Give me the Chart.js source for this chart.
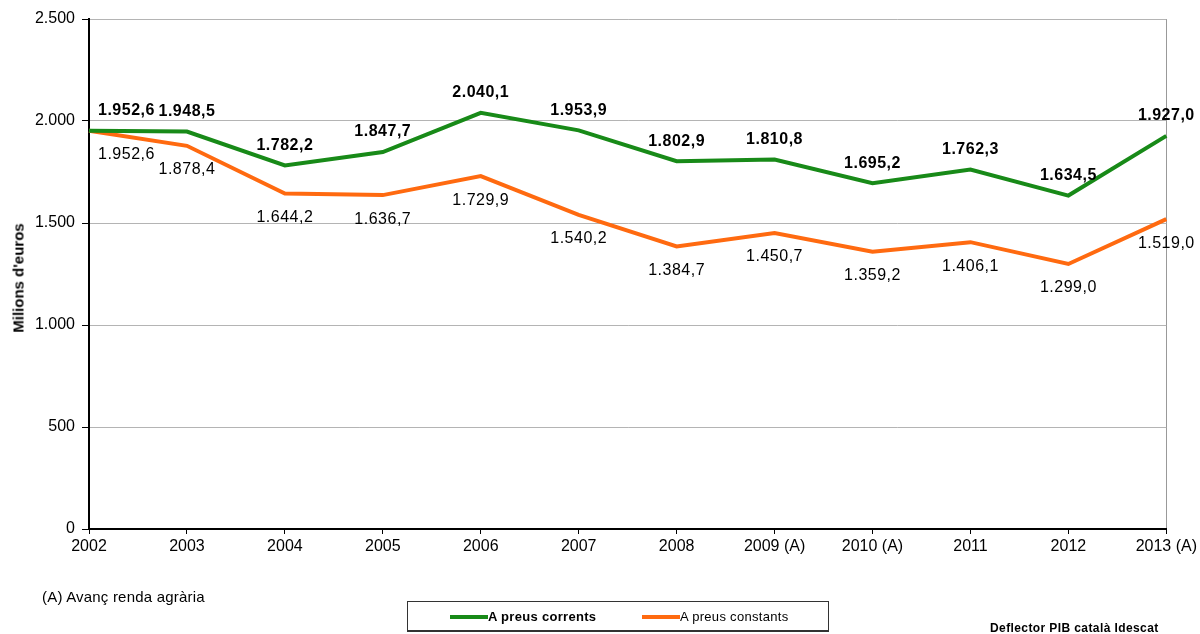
<!DOCTYPE html>
<html lang="ca">
<head>
    <meta charset="UTF-8"/>
    <title>Renda agrària</title>
    <style>
        html, body {
            margin: 0;
            padding: 0;
            width: 1200px;
            height: 634px;
            background: #fff;
            overflow: hidden;
            font-family: 'Liberation Sans', Arial, sans-serif;
        }

        #wrap {
            position: relative;
            width: 1200px;
            height: 634px;
        }

        canvas {
            position: absolute;
            top: 0;
            left: 0;
        }

        #ylabel {
            position: absolute;
            left: 18px;
            top: 278px;
            transform: translate(-50%, -50%) rotate(-90deg);
            font-size: 15px;
            font-weight: bold;
            white-space: nowrap;
            color: #000;
        }

        #note {
            position: absolute;
            left: 42px;
            top: 588px;
            font-size: 15px;
            letter-spacing: 0.2px;
            color: #000;
        }

        #legend {
            position: absolute;
            left: 407px;
            top: 601px;
            width: 422px;
            height: 31px;
            border: 1px solid #333;
            border-bottom-width: 2px;
            box-sizing: border-box;
            font-size: 13px;
            color: #000;
        }

        .item {
            position: absolute;
            top: 7px;
            white-space: nowrap;
            letter-spacing: 0.3px;
        }

        .swatch {
            display: inline-block;
            width: 38px;
            height: 4px;
            vertical-align: middle;
            margin-top: -2px;
        }

        #source {
            position: absolute;
            left: 990px;
            top: 621px;
            font-size: 12px;
            font-weight: bold;
            letter-spacing: 0.4px;
            color: #000;
            white-space: nowrap;
        }
    </style>
    <script src="https://cdn.jsdelivr.net/npm/chart.js@4/dist/chart.umd.min.js"></script>
</head>
<body>
<div id="wrap">
    <canvas id="chart" width="1200" height="634"></canvas>
    <div id="ylabel">Milions d'euros</div>
    <div id="note">(A) Avanç renda agrària</div>
    <div id="legend">
        <span class="item" style="left:42px;font-weight:bold;"><span class="swatch" style="background:#188a18;"></span>A preus corrents</span>
        <span class="item" style="left:234px;"><span class="swatch" style="background:#ff6a10;"></span>A preus constants</span>
    </div>
    <div id="source">Deflector PIB català Idescat</div>
</div>

<script>
    // Data
    const years = ['2002', '2003', '2004', '2005', '2006', '2007', '2008',
        '2009 (A)', '2010 (A)', '2011', '2012', '2013 (A)'];
    const corrents = [1952.6, 1948.5, 1782.2, 1847.7, 2040.1, 1953.9, 1802.9,
        1810.8, 1695.2, 1762.3, 1634.5, 1927.0];
    const constants = [1952.6, 1878.4, 1644.2, 1636.7, 1729.9, 1540.2, 1384.7,
        1450.7, 1359.2, 1406.1, 1299.0, 1519.0];
    const yTicks = [0, 500, 1000, 1500, 2000, 2500];

    const GREEN = '#188a18';
    const ORANGE = '#ff6a10';
    const FONT = "'Liberation Sans', Arial, sans-serif";

    // 1234.5 -> "1.234,5"
    function fmt(v, dec) {
        const s = v.toFixed(dec);
        const parts = s.split('.');
        const int = parts[0].replace(/\B(?=(\d{3})+(?!\d))/g, '.');
        return parts[1] ? int + ',' + parts[1] : int;
    }

    // Value labels: bold above the green line, plain below the orange one
    const valueLabels = {
        id: 'valueLabels',
        afterDatasetsDraw(chart) {
            const c = chart.ctx;
            c.save();
            c.fillStyle = '#000';
            c.textBaseline = 'middle';
            c.letterSpacing = '0.5px';
            chart.data.datasets.forEach((ds, i) => {
                const meta = chart.getDatasetMeta(i);
                const above = i === 0;
                c.font = (above ? 'bold ' : '') + '16px ' + FONT;
                meta.data.forEach((pt, j) => {
                    const first = j === 0;
                    c.textAlign = first ? 'left' : 'center';
                    const x = first ? pt.x + 9 : pt.x;
                    const y = above ? pt.y - 20 : pt.y + 24;
                    c.fillText(fmt(ds.data[j], 1), x, y);
                });
            });
            c.restore();
        }
    };

    const ctx = document.getElementById('chart').getContext('2d');
    new Chart(ctx, {
        type: 'line',
        data: {
            labels: years,
            datasets: [{
                label: 'A preus corrents',
                data: corrents,
                borderColor: GREEN,
                borderWidth: 4,
                pointRadius: 0,
                tension: 0
            }, {
                label: 'A preus constants',
                data: constants,
                borderColor: ORANGE,
                borderWidth: 4,
                pointRadius: 0,
                tension: 0
            }]
        },
        options: {
            responsive: false,
            animation: false,
            layout: {padding: {top: 19, right: 33, left: 0, bottom: 0}},
            plugins: {
                legend: {display: false},
                tooltip: {enabled: false}
            },
            scales: {
                x: {
                    offset: false,
                    afterFit: s => { s.height = 105; },
                    border: {color: '#000', width: 2},
                    grid: {
                        color: c => c.index === years.length - 1 ? '#999' : 'rgba(0,0,0,0)',
                        tickColor: '#000',
                        tickLength: 5
                    },
                    ticks: {
                        color: '#000',
                        font: {family: FONT, size: 16},
                        padding: 3,
                        maxRotation: 0,
                        autoSkip: false
                    }
                },
                y: {
                    min: 0,
                    max: 2500,
                    afterFit: s => { s.width = 89; },
                    afterBuildTicks: s => { s.ticks = yTicks.map(v => ({value: v})); },
                    border: {color: '#000', width: 2},
                    grid: {
                        color: '#b4b4b4',
                        tickColor: '#000',
                        tickLength: 7
                    },
                    ticks: {
                        color: '#000',
                        font: {family: FONT, size: 16},
                        padding: 7,
                        callback: v => fmt(v, 0)
                    }
                }
            }
        },
        plugins: [valueLabels]
    });
</script>
</body>
</html>
